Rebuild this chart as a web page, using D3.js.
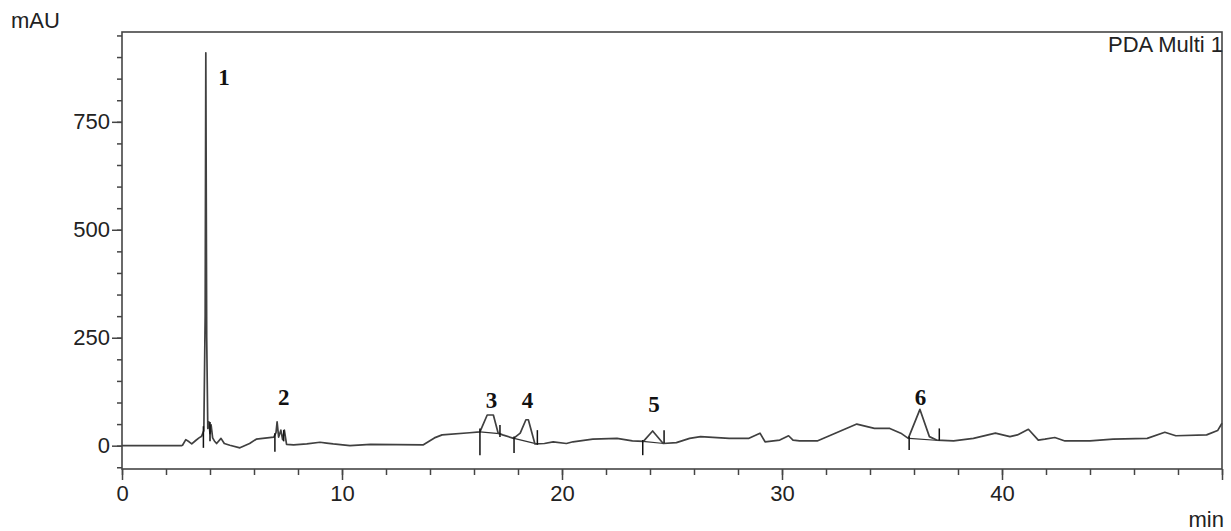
<!DOCTYPE html>
<html>
<head>
<meta charset="utf-8">
<script src="https://cdn.jsdelivr.net/npm/d3@7"></script>
<style>
  body { margin: 0; background: #fff; }
  .chart text { font-family: "Liberation Sans", Arial, sans-serif; }
  .peak-label { font-family: "Liberation Serif", "Times New Roman", serif !important; font-weight: bold; }
</style>
</head>
<body>
<div class="chart"></div>
<script>
// retention time (min) and absorbance (mAU)
var times = [0, 2.7, 2.75, 2.9, 3.05, 3.17, 3.35, 3.5, 3.62, 3.72, 3.78, 3.81, 3.85, 3.9, 3.95, 4.0, 4.05, 4.12, 4.2, 4.3, 4.5, 4.65, 4.9,
  5.36, 5.8, 6.1, 6.6, 6.9, 7.0, 7.05, 7.12, 7.22, 7.3, 7.38, 7.48, 7.8, 8.4, 9.0, 9.3, 9.6, 10.36, 11.3, 13.7, 14.2, 14.55, 15.8,
  16.27, 16.6, 16.88, 17.1, 17.3, 17.8, 18.1, 18.36, 18.47, 18.77, 19.2, 19.6, 20.2, 20.5, 21.4, 22.5, 23.2, 23.7, 24.12, 24.6,
  25.2, 25.8, 26.3, 27.6, 28.5, 29.0, 29.23, 29.9, 30.3, 30.5, 30.8, 31.6, 33.4, 34.2, 34.9, 35.4, 35.74, 36.27, 36.7, 37.03,
  37.8, 38.7, 39.7, 40.36, 40.7, 41.2, 41.65, 41.95, 42.4, 42.86, 44.0, 45.05, 46.6, 47.4, 47.9, 49.3, 49.8, 50.0];
var absorbance = [0, 0, 1, 14, 9, 4, 12, 18, 22, 35, 300, 910, 250, 40, 55, 28, 48, 18, 11, 5, 17, 5, 1,
  -5, 5, 15, 18, 20, 30, 55, 20, 36, 14, 36, 3, 2, 4, 8, 6, 4, 0, 3, 2, 18, 25, 30,
  32, 71, 71, 29, 25, 17, 29, 60, 60, 4, 5, 9, 5, 9, 15, 17, 11, 10, 34, 5,
  7, 17, 21, 17, 17, 29, 9, 13, 23, 13, 11, 11, 50, 40, 40, 29, 17, 84, 21, 13,
  11, 17, 29, 21, 25, 38, 13, 15, 19, 11, 11, 15, 17, 31, 23, 25, 35, 52];

// integration marks: time, upper and lower end (mAU)
var markTimes = [3.7, 4.0, 6.95, 7.35, 16.27, 17.18, 17.82, 18.88, 23.67, 24.64, 35.78, 37.15];
var markTops = [45, 55, 29, 36, 40, 48, 21, 36, 13, 36, 21, 40];
var markBottoms = [-5, 10, -14, 10, -22, 20, -17, 2, -22, 6, -10, 12];

// peak baselines drawn between start and end marks
var baseStarts = [[16.27, 32], [17.82, 17], [23.67, 10], [35.78, 17]];
var baseEnds = [[17.15, 28], [18.85, 4], [24.64, 5], [37.15, 12]];

var peakNames = ['1', '2', '3', '4', '5', '6'];
var peakTimes = [4.64, 7.35, 16.8, 18.43, 24.18, 36.3];
var peakLabelLevels = [835, 94, 87, 87, 79, 94];

var yMajorTicks = [0, 250, 500, 750];
var xMajorTicks = [0, 10, 20, 30, 40, 50];
var xTickLabels = ['0', '10', '20', '30', '40', ''];

var chart = {

  element: '.chart',

  width: 1231,
  height: 531,

  margin: { top: 32, right: 9, bottom: 62, left: 122 },

  ink: '#454545',

  draw: function(){
    var self = this,
        w = this.width - this.margin.left - this.margin.right,
        h = this.height - this.margin.top - this.margin.bottom;

    var svg = d3.select(this.element).append('svg')
        .attr('width', this.width)
        .attr('height', this.height);

    var g = svg.append('g')
        .attr('transform', 'translate(' + this.margin.left + ',' + this.margin.top + ')');

    var x = d3.scaleLinear().domain([0, 50]).range([0, w]);
    var y = d3.scaleLinear().domain([-54, 958]).range([h, 0]);

    // minor ticks first, then labelled major ticks
    var yMinor = d3.range(-50, 951, 50);
    var xMinor = d3.range(0, 50.1, 2);

    g.append('g').call(d3.axisLeft(y).tickValues(yMinor).tickSize(5).tickFormat(''))
      .call(this.styleAxis, this);
    g.append('g').call(d3.axisLeft(y).tickValues(yMajorTicks).tickSize(10).tickPadding(2))
      .call(this.styleAxis, this);

    g.append('g').attr('transform', 'translate(0,' + h + ')')
      .call(d3.axisBottom(x).tickValues(xMinor).tickSize(6).tickFormat(''))
      .call(this.styleAxis, this);
    g.append('g').attr('transform', 'translate(0,' + h + ')')
      .call(d3.axisBottom(x).tickValues(xMajorTicks).tickSize(11).tickPadding(5)
        .tickFormat(function(d, i){ return xTickLabels[i]; }))
      .call(this.styleAxis, this);

    // frame
    g.append('rect')
      .attr('x', 0).attr('y', 0)
      .attr('width', w).attr('height', h)
      .attr('fill', 'none')
      .attr('stroke', this.ink)
      .attr('stroke-width', 1.6);

    // baselines under integrated peaks
    g.selectAll('.base')
        .data(baseStarts)
      .enter().append('line')
        .attr('class', 'base')
        .attr('x1', function(d){ return x(d[0]); })
        .attr('y1', function(d){ return y(d[1]); })
        .attr('x2', function(d, i){ return x(baseEnds[i][0]); })
        .attr('y2', function(d, i){ return y(baseEnds[i][1]); })
        .attr('stroke', '#333')
        .attr('stroke-width', 1.2);

    var pts = times.map(function(t, i){ return [t, absorbance[i]]; });
    var line = d3.line()
        .x(function(d){ return x(d[0]); })
        .y(function(d){ return y(d[1]); });

    g.append('path')
      .datum(pts)
      .attr('d', line)
      .attr('fill', 'none')
      .attr('stroke', '#404040')
      .attr('stroke-width', 1.7)
      .attr('stroke-linejoin', 'round');

    g.selectAll('.mark')
        .data(markTimes)
      .enter().append('line')
        .attr('class', 'mark')
        .attr('x1', function(d){ return x(d); })
        .attr('x2', function(d){ return x(d); })
        .attr('y1', function(d, i){ return y(markTops[i]); })
        .attr('y2', function(d, i){ return y(markBottoms[i]); })
        .attr('stroke', '#111')
        .attr('stroke-width', 1.5);

    g.selectAll('.peak-label')
        .data(peakNames)
      .enter().append('text')
        .attr('class', 'peak-label')
        .attr('x', function(d, i){ return x(peakTimes[i]); })
        .attr('y', function(d, i){ return y(peakLabelLevels[i]); })
        .attr('text-anchor', 'middle')
        .attr('font-size', 23)
        .attr('fill', '#111')
        .text(function(d){ return d; });

    svg.append('text')
      .attr('x', 11).attr('y', 28)
      .attr('font-size', 22).attr('fill', '#222')
      .text('mAU');

    svg.append('text')
      .attr('x', this.width - 7).attr('y', 527)
      .attr('text-anchor', 'end')
      .attr('font-size', 22).attr('fill', '#222')
      .text('min');

    g.append('text')
      .attr('x', w + 1).attr('y', 20)
      .attr('text-anchor', 'end')
      .attr('font-size', 22).attr('fill', '#222')
      .text('PDA Multi 1');

    return svg;
  },

  styleAxis: function(sel, self){
    sel.select('.domain').remove();
    sel.selectAll('line').attr('stroke', self.ink).attr('stroke-width', 1.5);
    sel.selectAll('text')
      .attr('font-size', 22)
      .attr('fill', '#222')
      .attr('font-family', '"Liberation Sans", Arial, sans-serif');
  }
};

chart.draw();
</script>
</body>
</html>
